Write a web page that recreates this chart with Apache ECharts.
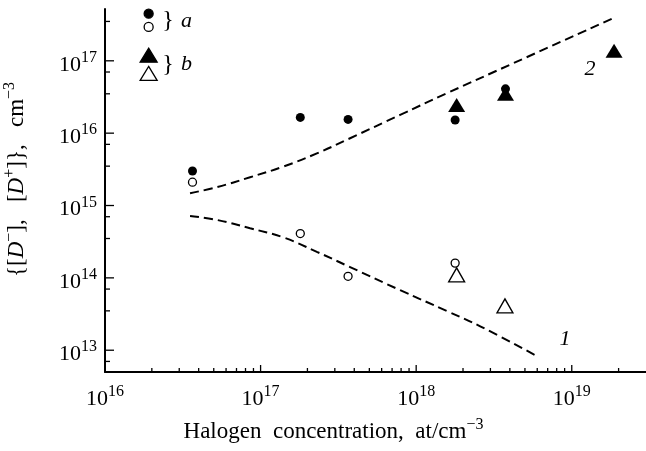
<!DOCTYPE html>
<html><head><meta charset="utf-8">
<script src="https://cdn.jsdelivr.net/npm/echarts@6/dist/echarts.min.js"></script>
<style>html,body{margin:0;padding:0;background:#fff}#c{width:646px;height:451px}</style>
</head><body><div id="c"></div>
<script>
// ---- data ----
const xTickExps = [16, 17, 18, 19];
const yTickExps = [13, 14, 15, 16, 17];
const xMajorTicks = [1e16, 1e17, 1e18, 1e19];
const xMinorTicks = [2e16,3e16,4e16,5e16,6e16,7e16,8e16,9e16,
                     2e17,3e17,4e17,5e17,6e17,7e17,8e17,9e17,
                     2e18,3e18,4e18,5e18,6e18,7e18,8e18,9e18,2e19];
const yMajorTicks = [1e13, 1e14, 1e15, 1e16, 1e17];
const yMinorTicks = [7e12, 3.5e13, 7e13, 3.5e14, 7e14, 3.5e15, 7e15, 3.5e16, 7e16, 3.5e17];

const aFilledX = [3.65e16, 1.8e17, 3.65e17, 1.78e18, 3.75e18];
const aFilledY = [3.0e15, 1.65e16, 1.55e16, 1.52e16, 4.1e16];
const aOpenX = [3.65e16, 1.8e17, 3.65e17, 1.78e18];
const aOpenY = [2.1e15, 4.1e14, 1.05e14, 1.6e14];
const bFilledX = [1.82e18, 3.75e18, 1.87e19];
const bFilledY = [2.45e16, 3.5e16, 1.38e17];
const bOpenX = [1.82e18, 3.72e18];
const bOpenY = [1.1e14, 4.1e13];

const curve2X = [3.52e16, 5.23e16, 8.56e16, 1.40e17, 2.30e17, 3.76e17, 7.89e17, 1.58e18, 4.23e18, 1.81e19];
const curve2Y = [1.48e15, 1.79e15, 2.46e15, 3.45e15, 5.25e15, 8.5e15, 1.79e16, 3.57e16, 9.3e16, 3.81e17];
const curve1X = [3.52e16, 5.23e16, 8.56e16, 1.40e17, 2.30e17, 3.76e17, 7.89e17, 1.58e18, 2.58e18, 5.97e18];
const curve1Y = [7.18e14, 6.32e14, 4.85e14, 3.63e14, 2.29e14, 1.41e14, 6.76e13, 3.47e13, 2.14e13, 8.3e12];

const xMin = 1e16, xMax = 3e19, yMin = 5e12, yMax = 5.2e17;

// ---- chart ----
const FONT = "'Liberation Serif','Times New Roman',serif";
const zip = (xs, ys) => xs.map((x, i) => [x, ys[i]]);
function powLabel(v, exps) {
  const e = Math.log10(v), r = Math.round(e);
  if (Math.abs(e - r) > 1e-6 || exps.indexOf(r) < 0) return '';
  return '{b|10}{s|' + r + '}';
}
const labelRich = {
  b: {fontSize: 22, fontFamily: FONT, color: '#000', lineHeight: 30},
  s: {fontSize: 16, fontFamily: FONT, color: '#000', lineHeight: 10, verticalAlign: 'top'}
};
const tickData = []
  .concat(xMajorTicks.map(v => [v, yMin, 0]))
  .concat(xMinorTicks.map(v => [v, yMin, 1]))
  .concat(yMajorTicks.map(v => [xMin, v, 2]))
  .concat(yMinorTicks.map(v => [xMin, v, 3]));
const tickLen = [7, 4, 9, 5];

const chart = echarts.init(document.getElementById('c'), null, {renderer: 'canvas'});
chart.setOption({
  animation: false,
  backgroundColor: '#fff',
  grid: {left: 105, right: 0, top: 9, bottom: 79, containLabel: false, outerBoundsMode: 'none'},
  xAxis: {
    type: 'log', logBase: 10, min: xMin, max: xMax,
    axisLine: {lineStyle: {color: '#000', width: 2}},
    axisTick: {show: false}, splitLine: {show: false}, minorTick: {show: false},
    axisLabel: {margin: 12, formatter: v => powLabel(v, xTickExps), rich: labelRich},
    name: '{t|Halogen  concentration,  at/cm}{s|\u22123}',
    nameLocation: 'middle', nameGap: 45,
    nameTextStyle: {
      fontFamily: FONT, fontSize: 23, color: '#000', lineHeight: 30, padding: [0, 84, 0, 0],
      rich: {
        t: {fontFamily: FONT, fontSize: 23, color: '#000', lineHeight: 30},
        s: {fontFamily: FONT, fontSize: 16, color: '#000', lineHeight: 10, verticalAlign: 'top'}
      }
    }
  },
  yAxis: {
    type: 'log', logBase: 10, min: yMin, max: yMax,
    axisLine: {lineStyle: {color: '#000', width: 2}},
    axisTick: {show: false}, splitLine: {show: false}, minorTick: {show: false},
    axisLabel: {margin: 8, formatter: v => powLabel(v, yTickExps), rich: labelRich, padding: [8, 0, 0, 0]},
    name: '{t|{[}{i|D}{s|\u2212}{t|],   [}{i|D}{s|+}]},   cm{s|\u22123}',
    nameLocation: 'middle', nameGap: 73, nameRotate: 90,
    nameTextStyle: {
      fontFamily: FONT, fontSize: 23, color: '#000', lineHeight: 30, padding: [0, 0, 0, 22],
      rich: {
        t: {fontFamily: FONT, fontSize: 23, color: '#000', lineHeight: 30},
        i: {fontFamily: FONT, fontSize: 23, fontStyle: 'italic', color: '#000', lineHeight: 30},
        s: {fontFamily: FONT, fontSize: 16, color: '#000', lineHeight: 10, verticalAlign: 'top'}
      }
    }
  },
  legend: [
    {data: ['a filled', 'a open'], orient: 'vertical', left: 143.5, top: 8.5, itemWidth: 9, itemHeight: 9,
     itemGap: 3, padding: 0, selectedMode: false, formatter: () => '', textStyle: {fontSize: 1},
     itemStyle: {borderWidth: 1.3, opacity: 1}},
    {data: ['b filled', 'b open'], orient: 'vertical', left: 139.5, top: 47.5, itemWidth: 17, itemHeight: 14,
     itemGap: 3, padding: 0, selectedMode: false, formatter: () => '', textStyle: {fontSize: 1},
     itemStyle: {borderWidth: 1.3, opacity: 1}}
  ],
  graphic: [
    {type: 'text', x: 168, y: 21, style: {text: '}', fontFamily: FONT, fontSize: 24, fill: '#000', align: 'center', verticalAlign: 'middle'}},
    {type: 'text', x: 181, y: 21, style: {text: 'a', fontFamily: FONT, fontSize: 22, fontStyle: 'italic', fill: '#000', align: 'left', verticalAlign: 'middle'}},
    {type: 'text', x: 168, y: 65, style: {text: '}', fontFamily: FONT, fontSize: 24, fill: '#000', align: 'center', verticalAlign: 'middle'}},
    {type: 'text', x: 181, y: 64, style: {text: 'b', fontFamily: FONT, fontSize: 22, fontStyle: 'italic', fill: '#000', align: 'left', verticalAlign: 'middle'}},
    {type: 'text', x: 590, y: 69, style: {text: '2', fontFamily: FONT, fontSize: 22, fontStyle: 'italic', fill: '#000', align: 'center', verticalAlign: 'middle'}},
    {type: 'text', x: 565, y: 339, style: {text: '1', fontFamily: FONT, fontSize: 22, fontStyle: 'italic', fill: '#000', align: 'center', verticalAlign: 'middle'}}
  ],
  series: [
    {
      type: 'custom', name: 'ticks', silent: true, clip: false, z: 5,
      encode: {x: 0, y: 1},
      data: tickData,
      renderItem: (params, api) => {
        const kind = api.value(2);
        const p = api.coord([api.value(0), api.value(1)]);
        const L = tickLen[kind];
        const shape = kind < 2
          ? {x1: p[0], y1: p[1], x2: p[0], y2: p[1] - L}
          : {x1: p[0], y1: p[1], x2: p[0] + L, y2: p[1]};
        return {type: 'line', shape: shape, style: {stroke: '#000', lineWidth: 1.3}};
      }
    },
    {type: 'line', name: 'curve 2', data: zip(curve2X, curve2Y), symbol: 'none', smooth: 0.4, silent: true,
     lineStyle: {color: '#000', width: 2, type: [9, 5]}},
    {type: 'line', name: 'curve 1', data: zip(curve1X, curve1Y), symbol: 'none', smooth: 0.4, silent: true,
     lineStyle: {color: '#000', width: 2, type: [9, 5]}},
    {type: 'scatter', name: 'a filled', data: zip(aFilledX, aFilledY), symbol: 'circle', symbolSize: 9, z: 10,
     itemStyle: {color: '#000', borderColor: '#000', borderWidth: 0, opacity: 1}},
    {type: 'scatter', name: 'a open', data: zip(aOpenX, aOpenY), symbol: 'circle', symbolSize: 8, z: 10,
     itemStyle: {color: '#fff', borderColor: '#000', borderWidth: 1.3, opacity: 1}},
    {type: 'scatter', name: 'b filled', data: zip(bFilledX, bFilledY), symbol: 'triangle', symbolSize: [17, 14], z: 10,
     itemStyle: {color: '#000', borderColor: '#000', borderWidth: 0, opacity: 1}},
    {type: 'scatter', name: 'b open', data: zip(bOpenX, bOpenY), symbol: 'triangle', symbolSize: [16, 14], z: 10,
     itemStyle: {color: '#fff', borderColor: '#000', borderWidth: 1.3, opacity: 1}}
  ]
});
</script>
</body></html>
